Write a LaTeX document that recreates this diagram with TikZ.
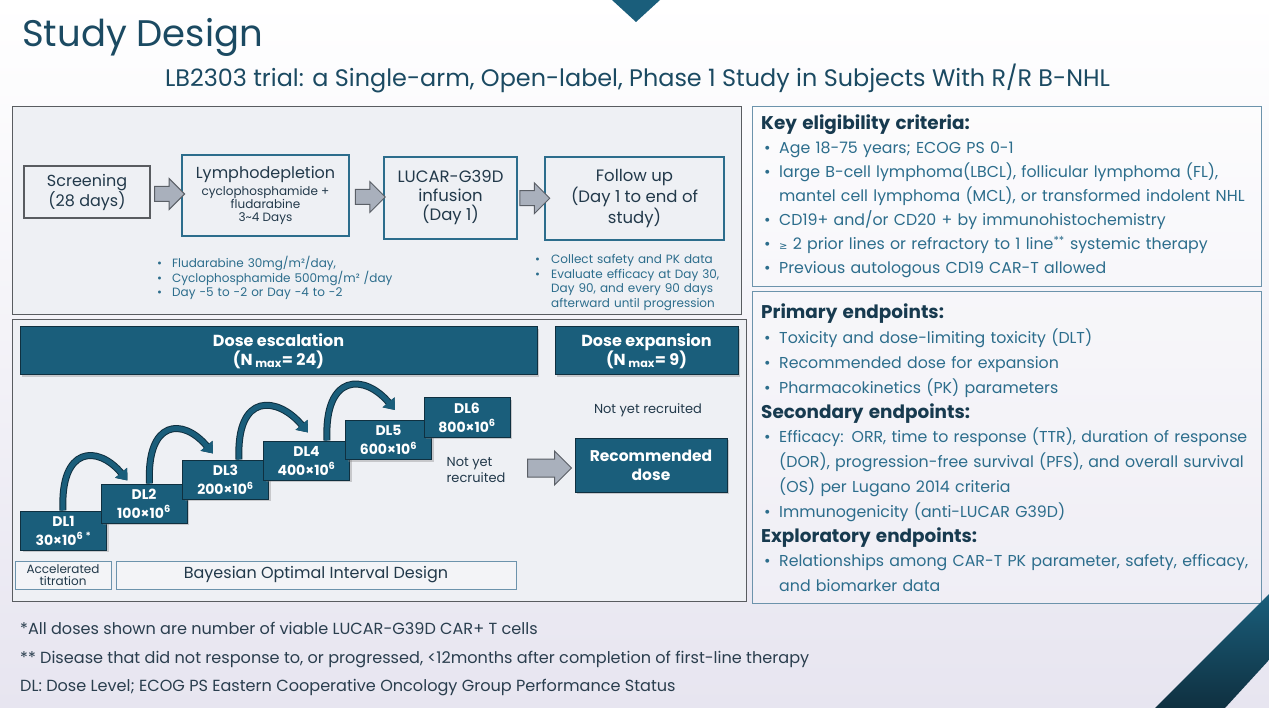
\documentclass[tikz,border=0pt]{standalone}
\usepackage{fontspec}
\setmainfont{Poppins}
\newfontfamily\symfont{DejaVu Sans}
\usepackage{xcolor}
\usetikzlibrary{arrows.meta,shapes.arrows,shadows,calc}

\definecolor{dlblue}{HTML}{1A5E7B}
\definecolor{dledge}{HTML}{0F3040}
\definecolor{titleblue}{HTML}{1B4A62}
\definecolor{itemblue}{HTML}{2C6D8C}
\definecolor{headblue}{HTML}{173A4F}
\definecolor{boxtext}{HTML}{22394A}
\definecolor{notetext}{HTML}{2A3E4E}
\definecolor{arrowgray}{HTML}{A9B0BC}
\definecolor{arrowedge}{HTML}{5A5F66}
\definecolor{panelfill}{HTML}{EEF0F4}
\definecolor{panelline}{HTML}{595C60}
\definecolor{rpanelline}{HTML}{6C93AC}
\definecolor{bglow}{HTML}{E7E5F0}

\newcommand{\fsz}[2]{\fontsize{#1}{#2}\selectfont}
\newcommand{\bul}[2][18pt]{\par\hangindent=#1\hangafter=1\noindent\makebox[#1][l]{\hspace{3pt}\textbullet}#2}

\begin{document}
\begin{tikzpicture}[x=1pt, y=-1pt,
  lpanel/.style={draw=panelline, line width=1pt, fill=panelfill},
  rpanel/.style={draw=rpanelline, line width=1pt, fill=white, fill opacity=0.25},
  flowgray/.style={draw=panelline, line width=1.5pt, fill=panelfill, align=center, text=boxtext, font=\fsz{16}{20}},
  flowbox/.style={draw=itemblue, line width=2pt, fill=panelfill, align=center, text=boxtext, font=\fsz{16.5}{19}},
  garrow/.style={single arrow, draw=arrowedge, fill=arrowgray, line width=1pt, inner sep=0pt, inner ysep=7pt,
    single arrow head extend=8pt, minimum height=30pt},
  notes/.style={anchor=north west, inner sep=0pt, align=left, text=itemblue},
  dlbox/.style={fill=dlblue, draw=dledge, line width=1pt, text=white, align=center, inner sep=0pt,
    font=\bfseries\fsz{14}{19}, minimum width=86pt, minimum height=39pt,
    drop shadow={shadow xshift=2pt, shadow yshift=-2pt, opacity=0.35}},
  hdr/.style={dlbox, font=\bfseries\fsz{16}{19}},
  curvarr/.style={draw=dlblue, line width=5pt, -{Triangle[length=10pt,width=15pt]},
    preaction={draw=dledge, line width=7pt, -{Triangle[length=10pt,width=15pt]}}},
  thinbox/.style={draw=rpanelline, line width=1pt, fill=white, fill opacity=0.3, text opacity=1,
    text=boxtext, align=center, inner sep=0pt},
  rtext/.style={anchor=north west, inner sep=0pt, text width=500pt, align=left, text=itemblue}]

  % background
  \useasboundingbox (0,0) rectangle (1269,708);
  \shade[top color=white, bottom color=bglow] (0,0) rectangle (1269,708);
  \fill[dlblue] (612,0) -- (660,0) -- (636,22) -- cycle;

  % titles
  \node[anchor=base west, inner sep=0pt, font=\fsz{37}{44}, text=titleblue] (title) at (22,47) {Study Design};
  \node[anchor=base, inner sep=0pt, font=\fsz{23.9}{28}, text=titleblue] (subtitle) at (637.5,87)
    {LB2303 trial: a Single-arm, Open-label, Phase 1 Study in Subjects With R/R B-NHL};

  % panels
  \draw[lpanel] (12,107) rectangle (741,315);
  \draw[lpanel] (12,320) rectangle (746,601);
  \draw[rpanel] (752,107) rectangle (1261,287);
  \draw[rpanel] (752,292) rectangle (1261,603);

  % treatment flow
  \node[flowgray, minimum width=126pt, minimum height=52pt] (scr) at (87,192) {Screening\\(28 days)};
  \node[flowbox, minimum width=167pt, minimum height=81pt, font=\fsz{16}{19}] (lym) at (265.5,196)
    {Lymphodepletion\\[2pt]{\fsz{12}{13}\begin{tabular}{@{}c@{}}cyclophosphamide +\\fludarabine\\3\textasciitilde4 Days\end{tabular}}};
  \node[flowbox, minimum width=133pt, minimum height=82pt] (luc) at (450.5,198) {LUCAR-G39D\\infusion\\(Day 1)};
  \node[flowbox, minimum width=179pt, minimum height=83pt] (fol) at (634.5,198.5) {Follow up\\(Day 1 to end of\\study)};

  \node[garrow] (ga1) at ($(scr.east)!0.5!(lym.west)$) {};
  \node[garrow] (ga2) at ($(lym.east)!0.5!(luc.west)$) {};
  \node[garrow] (ga3) at ($(luc.east)!0.5!(fol.west)$) {};

  \node[notes, text width=260pt, font=\fsz{12}{14.5}] (ldnote) at (154,253)
    {\lineskiplimit=-6pt\bul{Fludarabine 30mg/m²/day,}\bul{Cyclophosphamide 500mg/m² /day}\bul{Day -5 to -2 or Day -4 to -2}\par};
  \node[notes, text width=220pt, font=\fsz{12}{14.5}] (funote) at (532,249)
    {\lineskiplimit=-6pt\bul[19pt]{Collect safety and PK data}\bul[19pt]{Evaluate efficacy at Day 30,\newline Day 90, and every 90 days\newline afterward until progression}\par};

  % dose escalation / expansion
  \node[hdr, minimum width=517pt, minimum height=48pt] (esc) at (278.5,351) {Dose escalation\\(N\,\textsubscript{max}= 24)};
  \node[hdr, minimum width=183pt, minimum height=48pt] (exp) at (646.5,351) {Dose expansion\\(N\,\textsubscript{max}= 9)};

  \node[dlbox] (dl1) at (63.5,530.5) {DL1\\30×10\textsuperscript{6}\,\textsuperscript{*}};
  \node[dlbox] (dl2) at (144,503.5) {DL2\\100×10\textsuperscript{6}};
  \node[dlbox] (dl3) at (225.5,479.5) {DL3\\200×10\textsuperscript{6}};
  \node[dlbox] (dl4) at (306.5,460.5) {DL4\\400×10\textsuperscript{6}};
  \node[dlbox] (dl5) at (388.5,440) {DL5\\600×10\textsuperscript{6}};
  \node[dlbox] (dl6) at (467,417.5) {DL6\\800×10\textsuperscript{6}};

  \draw[curvarr] ([xshift=43pt]dl1.north west) .. controls +(-3,-64) and +(-30,-36) .. ([xshift=27pt,yshift=3pt]dl2.north west);
  \draw[curvarr] ([xshift=49pt]dl2.north west) .. controls +(-3,-64) and +(-30,-36) .. ([xshift=31pt,yshift=6pt]dl3.north west);
  \draw[curvarr] ([xshift=57pt]dl3.north west) .. controls +(-3,-68) and +(-30,-36) .. ([xshift=45pt,yshift=8pt]dl4.north west);
  \draw[curvarr] ([xshift=64pt]dl4.north west) .. controls +(-3,-68) and +(-30,-36) .. ([xshift=50pt,yshift=10pt]dl5.north west);

  \node[inner sep=0pt, align=left, text=boxtext, font=\fsz{13}{16}] (nyr1) at (476,470) {Not yet\\recruited};
  \node[inner sep=0pt, text=boxtext, font=\fsz{13}{16}] (nyr2) at (648,410) {Not yet recruited};
  \node[hdr, minimum width=152pt, minimum height=54pt, font=\bfseries\fsz{15.5}{19}] (rec) at (651,465) {Recommended\\dose};
  \node[garrow, minimum height=44pt, inner ysep=8.5pt] (ga4) at (545,468) {};

  \node[thinbox, minimum width=96pt, minimum height=28pt, font=\fsz{12}{12.5}] (acc) at (63,575) {Accelerated\\titration};
  \node[thinbox, minimum width=400pt, minimum height=28pt, font=\fsz{16}{17}] (boin) at (316,575) {Bayesian Optimal Interval Design};

  % eligibility and endpoints
  \node[rtext, font=\fsz{15.8}{24}] (elig) at (761,115) {%
    {\bfseries\fsz{18.4}{24}\color{headblue}Key eligibility criteria:}\par
    \bul{Age 18-75 years; ECOG PS 0-1}
    \bul{large B-cell lymphoma(LBCL), follicular lymphoma (FL),\newline mantel cell lymphoma (MCL), or transformed indolent NHL}
    \bul{CD19+ and/or CD20 + by immunohistochemistry}
    \bul{{\symfont\fsz{10}{24}≥} 2 prior lines or refractory to 1 line\textsuperscript{**} systemic therapy}
    \bul{Previous autologous CD19 CAR-T allowed}\par};
  \node[rtext, font=\fsz{15.8}{24.8}] (endp) at (761,304) {%
    {\bfseries\fsz{18.4}{24.8}\color{headblue}Primary endpoints:}\par
    \bul{Toxicity and dose-limiting toxicity (DLT)}
    \bul{Recommended dose for expansion}
    \bul{Pharmacokinetics (PK) parameters}\par
    {\bfseries\fsz{18.4}{24.8}\color{headblue}Secondary endpoints:}\par
    \bul{Efficacy: ORR, time to response (TTR), duration of response\newline (DOR), progression-free survival (PFS), and overall survival\newline (OS) per Lugano 2014 criteria}
    \bul{Immunogenicity (anti-LUCAR G39D)}\par
    {\bfseries\fsz{18.4}{24.8}\color{headblue}Exploratory endpoints:}\par
    \bul{Relationships among CAR-T PK parameter, safety, efficacy,\newline and biomarker data}\par};

  % footnotes
  \node[notes, text=notetext, font=\fsz{16.1}{28.5}] (foot) at (20,622)
    {*All doses shown are number of viable LUCAR-G39D CAR+ T cells\\
     ** Disease that did not response to, or progressed, <12months after completion of first-line therapy\\
     DL: Dose Level; ECOG PS Eastern Cooperative Oncology Group Performance Status};

  % corner band
  \shade[top color=dlblue, bottom color=dledge] (1155,708) -- (1269,594) -- (1269,660) -- (1225,708) -- cycle;

\end{tikzpicture}
\end{document}
